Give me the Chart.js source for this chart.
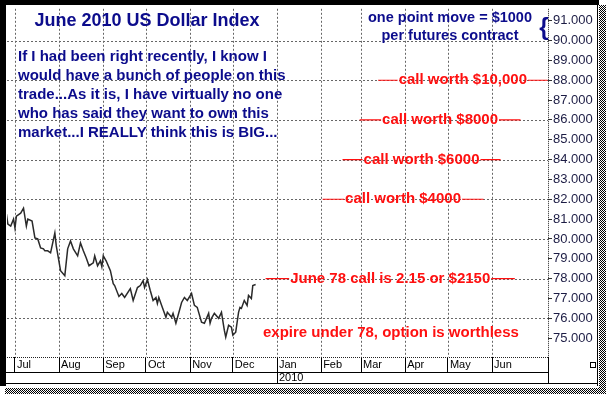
<!DOCTYPE html>
<html>
<head>
<meta charset="utf-8">
<script src="https://cdn.jsdelivr.net/npm/chart.js@4.4.1/dist/chart.umd.min.js"></script>
<style>
  html, body { margin: 0; padding: 0; background: #fff; }
  #wrap { position: relative; width: 609px; height: 396px; }
</style>
</head>
<body>
<div id="wrap"><canvas id="chart" width="609" height="396"></canvas></div>
<script>
// x values are calendar days counted from 1 Jul 2009
const monthStarts = [0, 31, 62, 92, 123, 153, 184, 215, 243, 274, 304, 335];
const monthLabels = ['Jul', 'Aug', 'Sep', 'Oct', 'Nov', 'Dec', ['Jan', '2010'], 'Feb', 'Mar', 'Apr', 'May', 'Jun'];
const priceTicks = [75, 76, 77, 78, 79, 80, 81, 82, 83, 84, 85, 86, 87, 88, 89, 90, 91];

const priceDays = [-6, -5, -3, -1, 0, 1, 4, 6, 8, 9,
  12, 14, 16, 18, 20, 21, 23, 25, 28, 29,
  32, 35, 37, 39, 41, 44, 46, 48, 50, 52,
  55, 56, 58, 60, 61, 62, 64, 67, 69, 70,
  73, 75, 77, 81, 83, 86, 88, 90, 91, 93,
  95, 97, 99, 100, 101, 103, 106, 107, 110, 111,
  113, 114, 117, 119, 121, 124, 126, 128, 129, 131,
  133, 136, 137, 138, 140, 143, 145, 147, 148, 150,
  152, 153, 155, 157, 158, 159, 161, 163, 164, 166,
  167, 169];
const priceValues = [81.25, 80.75, 80.65, 81.0, 80.55, 81.15, 81.3, 81.55, 80.65, 81.0,
  80.9, 80.05, 80.0, 79.55, 79.5, 79.4, 79.4, 79.3, 80.3, 79.65,
  78.4, 78.15, 79.5, 79.9, 79.5, 79.15, 79.8, 79.4, 79.05, 78.65,
  78.8, 79.15, 78.65, 78.9, 78.6, 79.15, 78.9, 78.4, 77.75, 77.65,
  77.1, 77.25, 77.05, 77.5, 76.9, 77.55, 77.65, 77.9, 77.55, 77.95,
  77.4, 76.9, 77.05, 76.75, 77.05, 76.65, 76.05, 76.3, 76.05, 76.25,
  75.75, 76.0, 76.8, 77.05, 76.9, 77.25, 76.65, 76.55, 76.3, 75.8,
  75.75, 76.25, 75.75, 76.0, 76.25, 76.0, 76.3, 75.4, 75.05, 75.65,
  75.55, 75.15, 75.3, 76.3, 76.55, 76.5, 76.9, 76.65, 77.15, 77.0,
  77.65, 77.7];

// call values at each price level
const callLevels = [88, 86, 84, 82, 78];
const callNotes = ['call worth $10,000', 'call worth $8000', 'call worth $6000', 'call worth $4000', 'June 78 call is 2.15 or $2150'];

const introLines = [
  'If I had been right recently, I know I',
  'would have a bunch of people on this',
  'trade...As it is, I have virtually no one',
  'who has said they want to own this',
  'market...I REALLY think this is BIG...'
];

const NAVY = '#0c0c8c';
const RED = '#ff1010';
const FONT = 'Arial, "Liberation Sans", sans-serif';

// extent of the dashed leader lines, in days
const noteSpan = [[255, 374], [242, 355], [230, 341], [216, 329], [176, 351]];

// dotted grid at month starts and even price levels
const gridPlugin = {
  id: 'dotgrid',
  beforeDatasetsDraw(chart) {
    const { ctx, chartArea: a, scales: { x, y } } = chart;
    ctx.save();
    ctx.strokeStyle = '#666';
    ctx.lineWidth = 1;
    ctx.setLineDash([2, 2]);
    ctx.beginPath();
    x.ticks.forEach(t => {
      const px = Math.round(x.getPixelForValue(t.value)) + 0.5;
      ctx.moveTo(px, a.top);
      ctx.lineTo(px, a.bottom);
    });
    y.ticks.forEach(t => {
      if (t.value % 2) return;
      const py = Math.round(y.getPixelForValue(t.value)) + 0.5;
      ctx.moveTo(a.left, py);
      ctx.lineTo(a.right, py);
    });
    ctx.stroke();
    ctx.strokeStyle = '#222';
    ctx.setLineDash([1, 1]);
    ctx.beginPath();
    ctx.moveTo(a.left, Math.round(a.bottom) + 0.5);
    ctx.lineTo(a.right, Math.round(a.bottom) + 0.5);
    ctx.moveTo(Math.round(a.right) + 0.5, a.top);
    ctx.lineTo(Math.round(a.right) + 0.5, a.bottom);
    ctx.stroke();
    ctx.restore();
  }
};

const notesPlugin = {
  id: 'notes',
  afterDatasetsDraw(chart) {
    const { ctx, scales: { x, y } } = chart;
    ctx.save();
    ctx.textBaseline = 'middle';

    ctx.fillStyle = NAVY;
    ctx.textAlign = 'center';
    ctx.font = 'bold 18px ' + FONT;
    ctx.fillText('June 2010 US Dollar Index', 147, 21);

    ctx.textAlign = 'left';
    ctx.font = 'bold 15px ' + FONT;
    introLines.forEach((t, i) => ctx.fillText(t, 18, 57 + i * 19));

    ctx.textAlign = 'center';
    ctx.font = 'bold 14.5px ' + FONT;
    ctx.fillText('one point move = $1000', 450, 18);
    ctx.fillText('per futures contract', 450, 36);
    ctx.font = 'bold 24px ' + FONT;
    ctx.fillText('{', 544, 28);

    ctx.font = 'bold 15px ' + FONT;
    ctx.fillStyle = RED;
    ctx.strokeStyle = RED;
    ctx.lineWidth = 1.2;
    callLevels.forEach((lvl, i) => {
      const py = y.getPixelForValue(lvl);
      const x1 = x.getPixelForValue(noteSpan[i][0]);
      const x2 = x.getPixelForValue(noteSpan[i][1]);
      const cx = (x1 + x2) / 2;
      const w = ctx.measureText(callNotes[i]).width;
      ctx.beginPath();
      ctx.moveTo(x1, py);
      ctx.lineTo(cx - w / 2 - 1, py);
      ctx.moveTo(cx + w / 2 + 1, py);
      ctx.lineTo(x2, py);
      ctx.stroke();
      ctx.fillText(callNotes[i], cx, py);
    });
    ctx.fillText('expire under 78, option is worthless', x.getPixelForValue(264), y.getPixelForValue(75.25));
    ctx.restore();
  }
};

const framePlugin = {
  id: 'frame',
  beforeDraw(chart) {
    const ctx = chart.ctx;
    ctx.save();
    ctx.fillStyle = '#fff';
    ctx.fillRect(0, 0, chart.width, chart.height);
    ctx.restore();
  },
  afterDraw(chart) {
    const { ctx, chartArea: a, scales: { x } } = chart;
    ctx.save();
    ctx.strokeStyle = '#000';
    ctx.lineWidth = 1;
    // date rows
    ctx.beginPath();
    ctx.moveTo(6, 372.5); ctx.lineTo(a.right, 372.5);
    ctx.moveTo(6, 383.5); ctx.lineTo(597, 383.5);
    ctx.moveTo(a.right + 0.5, a.bottom); ctx.lineTo(a.right + 0.5, 383);
    const jan = Math.round(x.getPixelForValue(184)) + 0.5;
    ctx.moveTo(jan, 372); ctx.lineTo(jan, 383);
    ctx.stroke();
    ctx.strokeRect(590.5, 362.5, 5, 5);
    // outer frame
    ctx.fillStyle = '#000';
    ctx.fillRect(0, 0, 6, 386);
    ctx.fillRect(0, 0, 599, 5);
    ctx.fillRect(597, 5, 1, 381);
    const pc = document.createElement('canvas');
    pc.width = 2; pc.height = 2;
    const p = pc.getContext('2d');
    p.fillStyle = '#000';
    p.fillRect(0, 0, 1, 1);
    p.fillRect(1, 1, 1, 1);
    ctx.fillStyle = ctx.createPattern(pc, 'repeat');
    ctx.fillRect(599, 5, 7, 389);
    ctx.fillRect(5, 388, 601, 6);
    ctx.restore();
  }
};

new Chart(document.getElementById('chart'), {
  type: 'line',
  data: {
    datasets: [{
      data: priceDays.map((d, i) => ({ x: d, y: priceValues[i] })),
      borderColor: '#2a2a2a',
      borderWidth: 1.5,
      pointRadius: 0,
      tension: 0
    }]
  },
  options: {
    responsive: false,
    animation: false,
    layout: { padding: { left: 7, top: 6, right: 12, bottom: 13 } },
    plugins: { legend: { display: false }, tooltip: { enabled: false } },
    scales: {
      x: {
        type: 'linear',
        min: -5.6,
        max: 374.3,
        afterBuildTicks: s => { s.ticks = monthStarts.map(v => ({ value: v })); },
        afterFit: s => { s.height = 26; },
        grid: { drawOnChartArea: false, drawTicks: true, tickLength: 15, tickColor: '#000', tickWidth: 1 },
        border: { display: false },
        ticks: {
          autoSkip: false,
          maxRotation: 0,
          align: 'start',
          labelOffset: 2,
          padding: -14,
          color: '#000',
          font: { family: FONT, size: 11 },
          callback: (v, i) => monthLabels[i]
        }
      },
      y: {
        position: 'right',
        min: 74.05,
        max: 91.6,
        afterBuildTicks: s => { s.ticks = priceTicks.map(v => ({ value: v })); },
        afterFit: s => { s.width = 49; },
        grid: { drawOnChartArea: false, drawTicks: true, tickLength: 4, tickColor: '#333' },
        border: { display: false },
        ticks: {
          padding: 1,
          color: '#1c1c44',
          font: { family: FONT, size: 13 },
          callback: v => v.toFixed(3)
        }
      }
    }
  },
  plugins: [framePlugin, gridPlugin, notesPlugin]
});
</script>
</body>
</html>
